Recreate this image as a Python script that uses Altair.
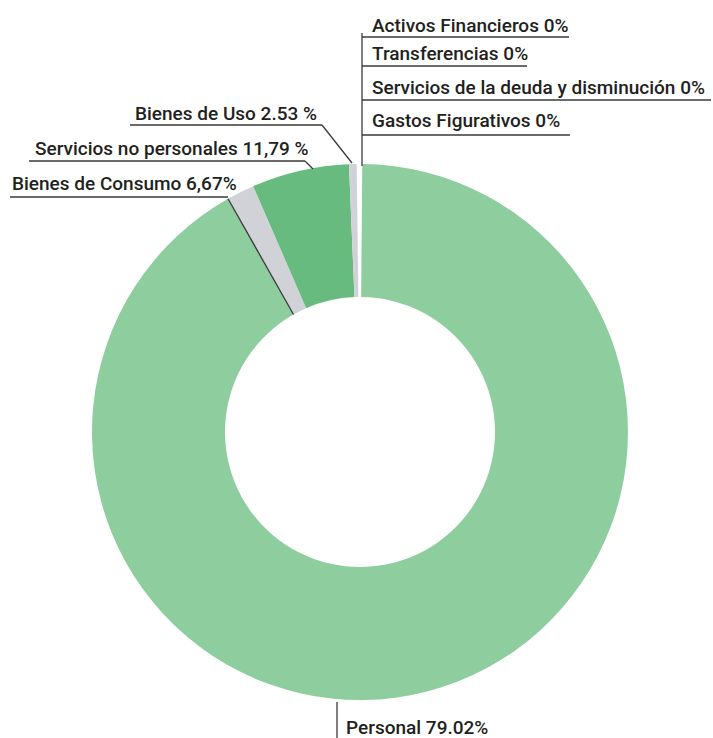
import altair as alt
import pandas as pd
import numpy as np

# Slice data (drawn angular shares, clockwise from 12 o'clock)
categories = ["Otros (0%)", "Personal", "Bienes de Consumo", "Servicios no personales", "Bienes de Uso"]
values = [0.33, 91.67, 1.67, 5.87, 0.46]
colors = ["#ffffff", "#8ecd9e", "#d0d2d7", "#68bb7f", "#d0d2d7"]

# Label texts
label_texts = [
    "Activos Financieros 0%",
    "Transferencias 0%",
    "Servicios de la deuda y disminución 0%",
    "Gastos Figurativos 0%",
    "Bienes de Uso 2.53 %",
    "Servicios no personales 11,79 %",
    "Bienes de Consumo 6,67%",
    "Personal 79.02%",
]
label_x = [372, 372, 372, 372, 135, 35, 12, 346]
label_y = [32, 60, 94, 127, 120, 155, 190, 734]

# Geometry of the donut
CX, CY, R_OUT, R_IN = 360, 432, 268, 135
start_deg = -0.7

# Boundary line between "Personal" and "Bienes de Consumo", derived from the data
cum = np.cumsum(values) / np.sum(values) * 360 + start_deg
b = np.deg2rad(cum[1])
bx1, by1 = CX + R_OUT * np.sin(b), CY - R_OUT * np.cos(b)
bx2, by2 = CX + R_IN * np.sin(b), CY - R_IN * np.cos(b)

# Leader lines (annotation segments)
seg_x = [362, 362, 362, 362, 362, 130, 322, 29, 305, 10, bx1, 337]
seg_y = [33, 37, 66, 100, 135, 125, 125, 161, 161, 197, by1, 702]
seg_x2 = [362, 569, 527, 711, 570, 322, 352, 305, 313, bx1, bx2, 337]
seg_y2 = [166, 37, 66, 100, 135, 125, 163, 161, 169, 197, by2, 738]

slices = pd.DataFrame({"cat": categories, "val": values, "ord": list(range(len(categories)))})
labels = pd.DataFrame({"t": label_texts, "x": label_x, "y": label_y})
segs = pd.DataFrame({"x": seg_x, "y": seg_y, "x2": seg_x2, "y2": seg_y2})

start = np.deg2rad(start_deg)
arc = alt.Chart(slices).mark_arc(outerRadius=R_OUT, innerRadius=R_IN, stroke=None).encode(
    theta=alt.Theta("val:Q", stack=True, scale=alt.Scale(range=[start, start + 2 * np.pi])),
    order=alt.Order("ord:Q"),
    color=alt.Color("cat:N", scale=alt.Scale(domain=categories, range=colors), legend=None),
    x=alt.value(CX),
    y=alt.value(CY),
)

rules = alt.Chart(segs).mark_rule(color="#3a3a3a", strokeWidth=1.3).encode(
    x=alt.X("x:Q", scale=None),
    y=alt.Y("y:Q", scale=None),
    x2="x2:Q",
    y2="y2:Q",
)

texts = alt.Chart(labels).mark_text(
    align="left", baseline="alphabetic", font="Roboto",
    fontSize=19, fontWeight=500, color="#231f20"
).encode(
    x=alt.X("x:Q", scale=None),
    y=alt.Y("y:Q", scale=None),
    text="t:N",
)

chart = alt.layer(arc, rules, texts).properties(
    width=713, height=738, padding=0, autosize=alt.AutoSizeParams(type="none"),
    background="#ffffff",
).configure_view(stroke=None)

chart.save("out.html", embed_options={"renderer": "svg", "actions": False})
